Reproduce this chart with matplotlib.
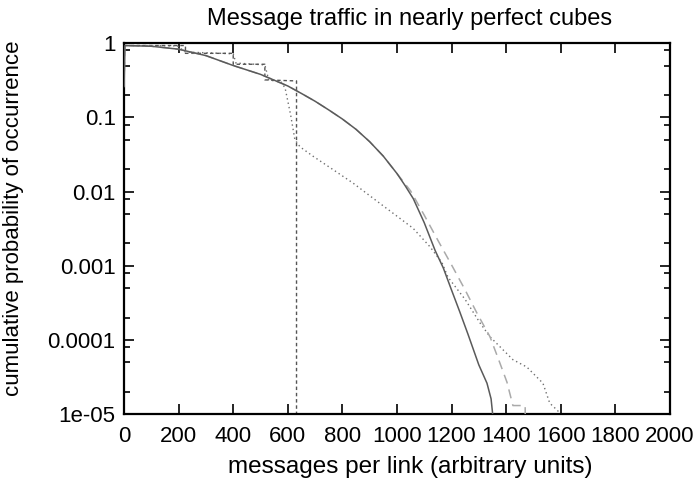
import numpy as np
import matplotlib
matplotlib.use("Agg")
import matplotlib.pyplot as plt
from matplotlib.ticker import LogLocator, FixedLocator, NullFormatter

plt.rcParams['font.family'] = ['Liberation Sans', 'DejaVu Sans']

# smooth curve (solid, dark gray)
solid_x = [0, 3, 100, 200, 300, 400, 500, 600, 650, 700, 750, 800, 850,
           900, 950, 1000, 1030, 1060, 1100, 1140, 1170, 1200, 1230, 1260,
           1300, 1330, 1345, 1352]
solid_y = [0.26, 0.93, 0.91, 0.83, 0.68, 0.50, 0.38, 0.265, 0.21, 0.165,
           0.126, 0.095, 0.069, 0.047, 0.030, 0.0175, 0.012, 0.0080,
           0.0038, 0.0016, 9.3e-4, 4.7e-4, 2.4e-4, 1.2e-4, 4.6e-5, 2.6e-5,
           1.6e-5, 9e-6]

# light dashed curve
light_x = [0, 3, 100, 200, 300, 400, 500, 600, 650, 700, 750, 800, 850,
           900, 950, 1000, 1050, 1100, 1150, 1205, 1250, 1293, 1341, 1377,
           1403, 1425, 1470, 1470]
light_y = [0.26, 0.93, 0.91, 0.83, 0.68, 0.50, 0.38, 0.265, 0.21, 0.165,
           0.126, 0.095, 0.069, 0.047, 0.030, 0.0175, 0.0102, 0.0048,
           0.0022, 9.5e-4, 4.7e-4, 2.3e-4, 1.1e-4, 4.9e-5, 2.7e-5, 1.3e-5,
           1.3e-5, 9e-6]

# dotted curve
dot_x = [0, 195, 225, 400, 410, 516, 530, 575, 590, 610, 626, 645, 692,
         755, 839, 938, 1059, 1121, 1165, 1187, 1250, 1304, 1341, 1425,
         1476, 1535, 1560, 1590, 1597]
dot_y = [0.93, 0.92, 0.76, 0.72, 0.54, 0.51, 0.32, 0.30, 0.25, 0.11,
         0.05, 0.040, 0.030, 0.021, 0.013, 0.0069, 0.0032, 0.0018, 0.0011,
         7e-4, 3.5e-4, 1.7e-4, 1.1e-4, 5.4e-5, 4.3e-5, 2.6e-5, 1.4e-5,
         1.1e-5, 9e-6]

# step curve (dark dashed)
step_x = [0, 225, 225, 400, 400, 516, 516, 632, 632]
step_y = [0.93, 0.93, 0.73, 0.73, 0.52, 0.52, 0.32, 0.31, 1e-6]

x_ticks = list(range(0, 2001, 200))
y_ticks = [1, 0.1, 0.01, 0.001, 0.0001, 1e-05]
y_labels = ['1', '0.1', '0.01', '0.001', '0.0001', '1e-05']

fig = plt.figure(figsize=(6.97, 4.8), dpi=100)
ax = fig.add_axes([0.178, 0.1375, 0.783, 0.7725])

ax.plot(solid_x, solid_y, color='#5a5a5a', lw=1.1, zorder=4)
ax.plot(light_x, light_y, color='#aaaaaa', lw=1.1, dashes=(6, 4), zorder=3)
ax.plot(dot_x, dot_y, color='#707070', lw=1.0, dashes=(1, 2.2), zorder=2)
ax.plot(step_x, step_y, color='#555555', lw=1.0, dashes=(2.5, 2), zorder=2)

ax.set_yscale('log')
ax.set_xlim(0, 2000)
ax.set_ylim(1e-5, 1)

ax.xaxis.set_major_locator(FixedLocator(x_ticks))
ax.set_xticklabels([str(v) for v in x_ticks])
ax.yaxis.set_major_locator(FixedLocator(y_ticks))
ax.set_yticklabels(y_labels)
ax.yaxis.set_minor_locator(LogLocator(base=10, subs=[2, 5, 8]))
ax.yaxis.set_minor_formatter(NullFormatter())

ax.tick_params(which='major', direction='in', length=7, width=1.2,
               top=True, right=True, labelsize=16, colors='black')
ax.tick_params(axis='x', which='major', pad=9)
ax.tick_params(axis='y', which='major', pad=6)
ax.tick_params(which='minor', direction='in', length=4, width=1.2,
               top=False, right=True, left=True)
for s in ax.spines.values():
    s.set_linewidth(1.6)

ax.set_title('Message traffic in nearly perfect cubes', fontsize=17, pad=13,
             x=0.524)
ax.set_xlabel('messages per link (arbitrary units)', fontsize=17.5)
ax.xaxis.set_label_coords(0.525, -0.112)
ax.set_ylabel('cumulative probability of occurrence', fontsize=16)
ax.yaxis.set_label_coords(-0.183, 0.528)

fig.savefig('out.png', dpi=100)
